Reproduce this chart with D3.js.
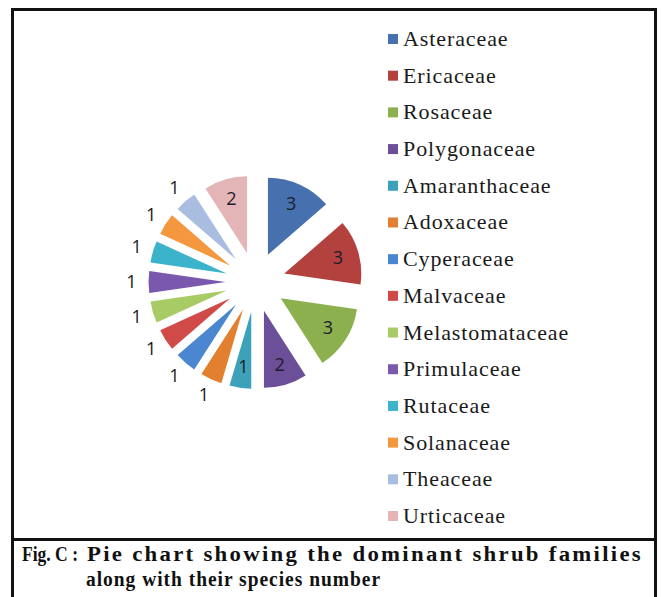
<!DOCTYPE html>
<html>
<head>
<meta charset="utf-8">
<script src="https://cdn.jsdelivr.net/npm/d3@7"></script>
<style>
  html, body { margin: 0; padding: 0; background: #fff; }
  svg { display: block; }
  .serif { font-family: "Liberation Serif", "Times New Roman", "DejaVu Serif", serif; }
  text.legtext { font-family: "Liberation Serif", "Times New Roman", serif; }
</style>
</head>
<body>
<svg id="chart" width="662" height="597"></svg>
<script>
// ---- data ----
const families = ["Asteraceae", "Ericaceae", "Rosaceae", "Polygonaceae", "Amaranthaceae",
  "Adoxaceae", "Cyperaceae", "Malvaceae", "Melastomataceae", "Primulaceae",
  "Rutaceae", "Solanaceae", "Theaceae", "Urticaceae"];
const speciesCount = [3, 3, 3, 2, 1, 1, 1, 1, 1, 1, 1, 1, 1, 2];
const sliceColors = ["#4671ae", "#b3423f", "#8db04e", "#6b4f98", "#3ca1b9",
  "#e2802f", "#4b86d1", "#d04a48", "#a9cb66", "#7a58ae",
  "#3bb3cb", "#f5973f", "#a9bde0", "#e4b5b7"];
const captionLabel = "Fig. C :";
const captionLines = ["Pie chart showing the dominant shrub families",
  "along with their species number"];

// ---- layout ----
const svg = d3.select("#chart");
const cx = 255.5, cy = 282, R = 77, explode = 30;

// frame
svg.append("rect").attr("x", 12.5).attr("y", 9.5).attr("width", 643).attr("height", 600)
  .attr("fill", "none").attr("stroke", "#111").attr("stroke-width", 3);
svg.append("line").attr("x1", 12.5).attr("x2", 655.5).attr("y1", 539.5).attr("y2", 539.5)
  .attr("stroke", "#111").attr("stroke-width", 3);

// pie
const pie = d3.pie().sort(null).value(d => d.v).startAngle(0).endAngle(2 * Math.PI);
const arcs = pie(families.map((f, i) => ({ name: f, v: speciesCount[i], i })));
const arc = d3.arc().innerRadius(0).outerRadius(R);
const color = d3.scaleOrdinal().domain(families).range(sliceColors);

const g = svg.append("g").attr("transform", `translate(${cx},${cy})`);
const polar = (a, r) => [Math.sin(a) * r, -Math.cos(a) * r];

g.selectAll("path.slice").data(arcs).enter().append("path")
  .attr("class", "slice")
  .attr("d", arc)
  .attr("fill", d => color(d.data.name))
  .attr("transform", d => {
    const m = (d.startAngle + d.endAngle) / 2;
    const [x, y] = polar(m, explode);
    return `translate(${x},${y})`;
  });

// labels
const inside = d => d.data.v > 1 || d.data.name === "Amaranthaceae";
g.selectAll("text.lbl").data(arcs).enter().append("text")
  .attr("class", "lbl")
  .attr("x", d => polar((d.startAngle + d.endAngle) / 2, inside(d) ? 86 : 124)[0])
  .attr("y", d => polar((d.startAngle + d.endAngle) / 2, inside(d) ? 86 : 124)[1] + 6)
  .attr("text-anchor", "middle")
  .style("font-family", "'Open Sans', 'Liberation Sans', Arial, sans-serif")
  .style("font-size", "18px")
  .attr("fill", d => inside(d) ? "#1c1c2c" : "#1a1a1a")
  .text(d => d.data.v);

// legend
const legY = d3.scalePoint().domain(families).range([39, 516]);
const leg = svg.append("g");
const items = leg.selectAll("g").data(families).enter().append("g")
  .attr("transform", d => `translate(388,${legY(d)})`);
items.append("rect").attr("x", 0).attr("y", -5).attr("width", 10).attr("height", 10)
  .attr("fill", d => color(d));
items.append("text").attr("class", "legtext").attr("x", 15).attr("y", 7)
  .attr("font-family", "Liberation Serif")
  .style("font-size", "22px")
  .style("letter-spacing", "0.9px")
  .attr("fill", "#1a1a1a")
  .text(d => d);

// caption
const cap = svg.append("g").attr("class", "serif")
  .style("font-weight", "bold").style("font-size", "20px").attr("fill", "#111");
cap.append("text").attr("x", 22).attr("y", 561)
  .attr("textLength", 56).attr("lengthAdjust", "spacingAndGlyphs").text(captionLabel);
cap.append("text").attr("x", 87).attr("y", 561).style("letter-spacing", "2px")
  .attr("textLength", 556).attr("lengthAdjust", "spacingAndGlyphs").text(captionLines[0]);
cap.append("text").attr("x", 86).attr("y", 586).style("letter-spacing", "1px")
  .attr("textLength", 295).attr("lengthAdjust", "spacingAndGlyphs").text(captionLines[1]);
</script>
</body>
</html>
